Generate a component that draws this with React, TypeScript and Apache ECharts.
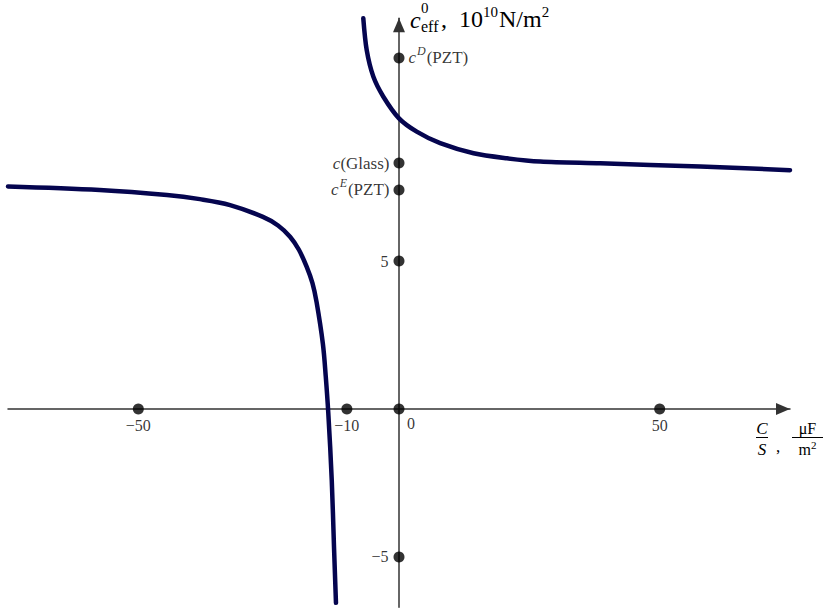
import React, { useEffect, useRef } from "react";
import * as echarts from "echarts";

// Curve readings (C/S in µF/m², c_eff in 1e10 N/m²)
const leftX = [-75, -57.4, -44.5, -38.2, -32.4, -26.1, -23.2, -20.9, -19.2, -17.7, -16.6, -15.8, -14.6, -14.05, -13.56, -12.9, -12.47, -12.09];
const leftY = [7.52, 7.4, 7.23, 7.09, 6.89, 6.49, 6.2, 5.82, 5.38, 4.8, 4.25, 3.6, 2.2, 1.1, -0.15, -2.4, -4.65, -6.55];
const rightX = [-6.85, -6.2, -4.93, -3.0, 0, 3.4, 7.9, 14.3, 20.7, 27.1, 38.6, 57.8, 75];
const rightY = [13.2, 12.13, 11.23, 10.55, 9.82, 9.37, 8.98, 8.64, 8.47, 8.36, 8.3, 8.19, 8.07];

const xTicks = [-50, -10, 0, 50];
const xTickLabels = ["\u221250", "\u221210", "0", "50"];
const yTicks = [5, -5];
const yTickLabels = ["5", "\u22125"];
const materialNames = ["PZT", "Glass", "PZT"];
const materialSup = ["E", "", "D"];
const materialValues = [7.4, 8.31, 11.86];
const materialSide = ["left", "left", "right"];

const FONT = '"Liberation Serif", "DejaVu Serif", serif';
const CURVE = "#05054f";

export default function App() {
  const ref = useRef<HTMLDivElement>(null);
  useEffect(() => {
    if (!ref.current) return;
    const chart = echarts.init(ref.current, undefined, { renderer: "svg" });
    const rich = {
      i: { fontStyle: "italic", fontSize: 17, fontFamily: FONT, color: "#000" },
      n: { fontSize: 17, fontFamily: FONT, color: "#000" },
      sup: { fontStyle: "italic", fontSize: 12, fontFamily: FONT, color: "#000", padding: [0, 1, 13, 1] },
    };
    const dots: any[] = [];
    xTicks.forEach((x, k) => {
      dots.push({
        value: [x, 0],
        label: {
          show: true,
          position: "bottom",
          distance: 3,
          offset: x === 0 ? [12, -2] : [0, 0],
          formatter: xTickLabels[k],
          fontFamily: FONT,
          fontSize: 16,
          color: "#000",
        },
      });
    });
    yTicks.forEach((y, k) => {
      dots.push({
        value: [0, y],
        label: { show: true, position: "left", distance: 5, formatter: yTickLabels[k], fontFamily: FONT, fontSize: 16, color: "#000" },
      });
    });
    materialValues.forEach((v, k) => {
      const f = materialSup[k]
        ? `{i|c}{sup|${materialSup[k]}}{n|(${materialNames[k]})}`
        : `{i|c}{n|(${materialNames[k]})}`;
      dots.push({
        value: [0, v],
        label: { show: true, position: materialSide[k], distance: 4, formatter: f, rich },
      });
    });

    const lineStyle = { color: CURVE, width: 4.5, cap: "round", join: "round" };
    const axisCommon = {
      type: "value",
      axisTick: { show: false },
      axisLabel: { show: false },
      splitLine: { show: false },
      axisLine: {
        onZero: true,
        symbol: ["none", "triangle"],
        symbolSize: [12, 14],
        symbolOffset: [0, -7],
        lineStyle: { color: "#333", width: 1.5 },
      },
    };
    chart.setOption({
      animation: false,
      backgroundColor: "#fff",
      grid: { left: 8, top: 18.3, width: 782, height: 589 },
      xAxis: { ...axisCommon, min: -75, max: 75 },
      yAxis: { ...axisCommon, min: -6.7, max: 13.2 },
      series: [
        {
          type: "line",
          data: leftX.map((x, k) => [x, leftY[k]]),
          showSymbol: false,
          smooth: 0.35,
          lineStyle,
          z: 3,
        },
        {
          type: "line",
          data: rightX.map((x, k) => [x, rightY[k]]),
          showSymbol: false,
          smooth: 0.3,
          lineStyle,
          z: 3,
        },
        {
          type: "scatter",
          data: dots,
          symbolSize: 11,
          itemStyle: { color: "#000" },
          z: 4,
        },
      ],
      graphic: [
        { type: "text", x: 410, y: 19.5, style: { text: "c", font: `italic 24px ${FONT}`, fill: "#000", verticalAlign: "middle" } },
        { type: "text", x: 421, y: 8, style: { text: "0", font: `15px ${FONT}`, fill: "#000", verticalAlign: "middle" } },
        { type: "text", x: 421, y: 26, style: { text: "eff", font: `16px ${FONT}`, fill: "#000", verticalAlign: "middle" } },
        {
          type: "text",
          x: 441,
          y: 19,
          style: {
            text: ",  10{s|10}N/m{s|2}",
            font: `24px ${FONT}`,
            fill: "#000",
            verticalAlign: "middle",
            rich: {
              s: { fontSize: 15, fontFamily: FONT, padding: [0, 1, 15, 0], fill: "#000" },
            },
          },
        },
        { type: "text", x: 762, y: 428, style: { text: "C", font: `italic 17px ${FONT}`, fill: "#000", align: "center", verticalAlign: "middle" } },
        { type: "line", shape: { x1: 756, y1: 437.5, x2: 768, y2: 437.5 }, style: { stroke: "#000", lineWidth: 1 } },
        { type: "text", x: 762, y: 449, style: { text: "S", font: `italic 17px ${FONT}`, fill: "#000", align: "center", verticalAlign: "middle" } },
        { type: "text", x: 776, y: 446, style: { text: ",", font: `17px ${FONT}`, fill: "#000", verticalAlign: "middle" } },
        { type: "text", x: 807.5, y: 428, style: { text: "\u03bcF", font: `16px ${FONT}`, fill: "#000", align: "center", verticalAlign: "middle" } },
        { type: "line", shape: { x1: 792, y1: 437.5, x2: 823, y2: 437.5 }, style: { stroke: "#000", lineWidth: 1 } },
        {
          type: "text",
          x: 807.5,
          y: 449,
          style: {
            text: "m{s|2}",
            font: `16px ${FONT}`,
            fill: "#000",
            align: "center",
            verticalAlign: "middle",
            rich: { s: { fontSize: 11, fontFamily: FONT, padding: [0, 0, 9, 0], fill: "#000" } },
          },
        },
      ],
    });
    return () => chart.dispose();
  }, []);
  return <div ref={ref} style={{ position: "absolute", left: 0, top: 0, width: 830, height: 610 }} />;
}
